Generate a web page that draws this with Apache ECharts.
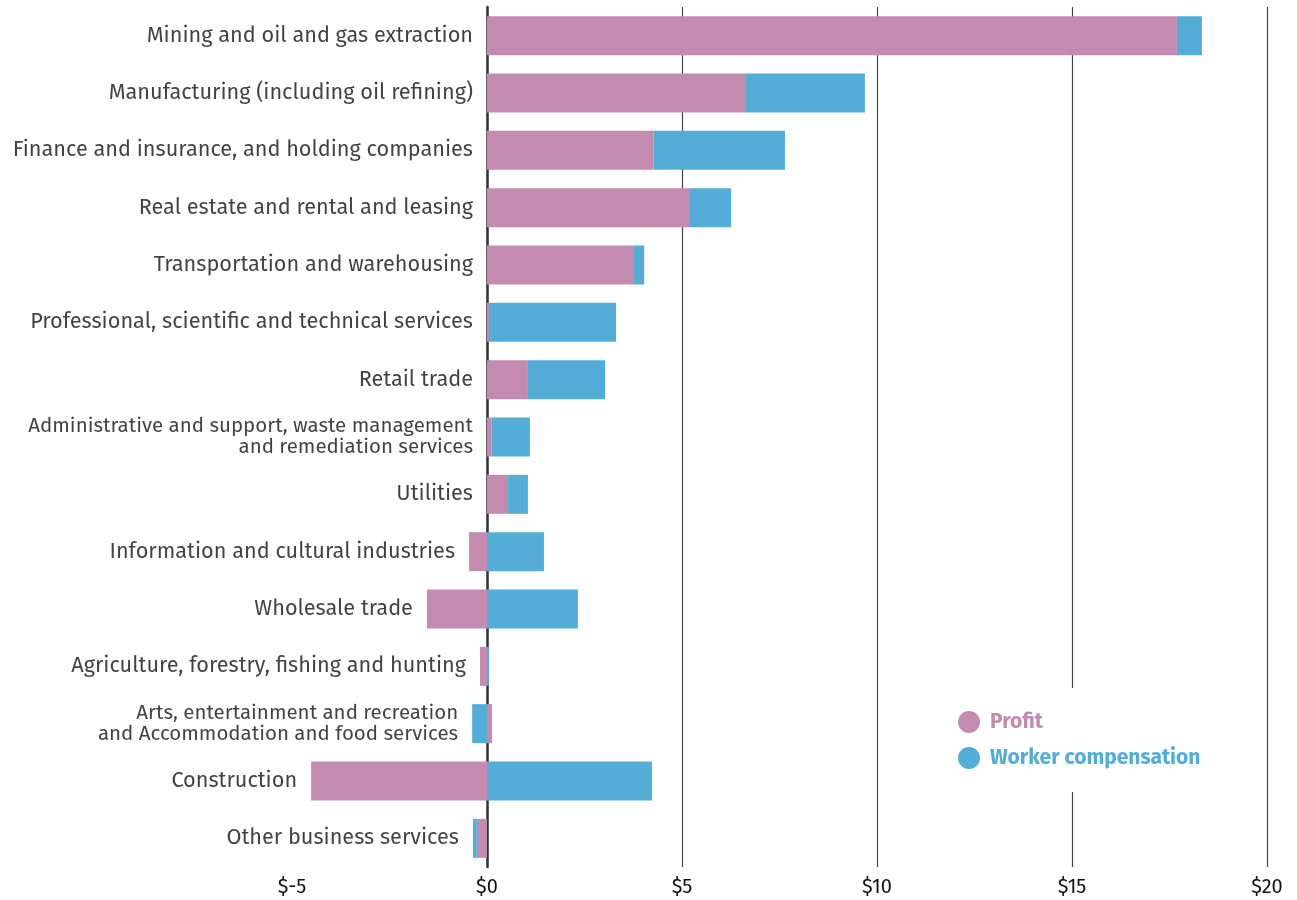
<!DOCTYPE html>
<html>
<head>
<meta charset="utf-8">
<script src="https://cdn.jsdelivr.net/npm/echarts@6/dist/echarts.min.js"></script>
<style>
  html, body { margin: 0; padding: 0; background: #fff; }
  #chart { width: 1297px; height: 900px; }
</style>
</head>
<body>
<div id="chart"></div>
<script>
// industries, top to bottom
const categories = [
  "Mining and oil and gas extraction",
  "Manufacturing (including oil refining)",
  "Finance and insurance, and holding companies",
  "Real estate and rental and leasing",
  "Transportation and warehousing",
  "Professional, scientific and technical services",
  "Retail trade",
  "Administrative and support, waste management\nand remediation services",
  "Utilities",
  "Information and cultural industries",
  "Wholesale trade",
  "Agriculture, forestry, fishing and hunting",
  "Arts, entertainment and recreation\nand Accommodation and food services",
  "Construction",
  "Other business services"
];
// $ billions
const profit = [17.69, 6.64, 4.27, 5.18, 3.77, 0.05, 1.03, 0.12, 0.54, -0.46, -1.54, -0.18, 0.13, -4.51, -0.26];
const workerComp = [0.64, 3.05, 3.37, 1.08, 0.26, 3.26, 2.0, 0.98, 0.51, 1.46, 2.33, 0.05, -0.38, 4.23, -0.10];
const tickLabels = ["$-5", "$0", "$5", "$10", "$15", "$20"];

const PINK = "#C48BB1";
const BLUE = "#54ADD6";
const FONT = "'Fira Sans', 'Noto Sans', sans-serif";

// label sits just left of where each bar starts (the negative end if any)
const labelPos = categories.map((c, i) => {
  const neg = Math.min(0, profit[i]) + Math.min(0, workerComp[i]);
  return [neg, i];
});

const chart = echarts.init(document.getElementById("chart"));
chart.setOption({
  animation: false,
  grid: { left: 292, right: 30, top: 7, bottom: 33, containLabel: false },
  legend: {
    data: [
      { name: "Profit", textStyle: { color: PINK } },
      { name: "Worker compensation", textStyle: { color: BLUE } }
    ],
    orient: "vertical",
    left: 953,
    top: 688,
    padding: [23, 20, 23, 5],
    itemGap: 14,
    itemWidth: 32,
    itemHeight: 22,
    icon: "circle",
    backgroundColor: "#fff",
    textStyle: { fontFamily: FONT, fontSize: 21, fontWeight: "bold" }
  },
  xAxis: {
    type: "value",
    min: -5,
    max: 20,
    interval: 5,
    axisLine: { show: false },
    axisTick: { show: false },
    axisLabel: {
      margin: 10,
      color: "#111",
      fontFamily: FONT,
      fontSize: 20,
      formatter: (v) => tickLabels[Math.round((v + 5) / 5)]
    },
    splitLine: {
      show: true,
      lineStyle: { color: ["rgba(0,0,0,0)", "#444", "#444", "#444", "#444", "#444"], width: 1.2 }
    }
  },
  yAxis: {
    type: "category",
    data: categories,
    inverse: true,
    axisLine: { show: true, onZero: true, lineStyle: { color: "#333", width: 2.5 } },
    axisTick: { show: false },
    axisLabel: { show: false },
    splitLine: { show: false }
  },
  series: [
    {
      name: "Profit",
      type: "bar",
      stack: "total",
      barWidth: 39,
      itemStyle: { color: PINK },
      data: profit
    },
    {
      name: "Worker compensation",
      type: "bar",
      stack: "total",
      barWidth: 39,
      itemStyle: { color: BLUE },
      data: workerComp
    },
    {
      name: "labels",
      type: "scatter",
      symbolSize: 0,
      silent: true,
      data: labelPos,
      label: {
        show: true,
        position: "left",
        distance: 14,
        color: "#111",
        fontFamily: FONT,
        fontSize: 21.7,
        lineHeight: 21,
        align: "right",
        // two-line labels are set a little smaller
        formatter: (p) => {
          const name = categories[p.dataIndex];
          if (name.indexOf("\n") < 0) return name;
          return name.split("\n").map((s) => "{s|" + s + "}").join("\n");
        },
        rich: {
          s: { fontFamily: FONT, fontSize: 20.5, lineHeight: 21, color: "#111" }
        }
      }
    }
  ]
});
</script>
</body>
</html>
